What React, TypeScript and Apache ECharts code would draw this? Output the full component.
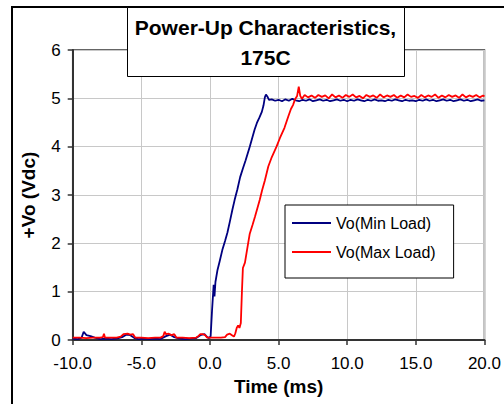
import React, { useEffect, useRef } from "react";
import * as echarts from "echarts";

const xTicks = [-10, -5, 0, 5, 10, 15, 20];
const yTicks = [0, 1, 2, 3, 4, 5, 6];
const seriesNames = ["Vo(Min Load)", "Vo(Max Load)"];

// Vo(Min Load): [time ms, volts]
const minLoad: [number, number][] = [
  [-10, 0.03], [-9.6, 0.02], [-9.35, 0.05], [-9.2, 0.17], [-9.0, 0.1], [-8.7, 0.08], [-8.4, 0.05],
  [-8.0, 0.02], [-7.6, 0.03], [-7.2, 0.02], [-6.8, 0.03], [-6.4, 0.06], [-6.1, 0.11], [-5.8, 0.1],
  [-5.5, 0.04], [-5.2, 0.02], [-4.8, 0.03], [-4.4, 0.02], [-4.0, 0.03], [-3.6, 0.02], [-3.2, 0.08],
  [-2.9, 0.11], [-2.6, 0.06], [-2.2, 0.03], [-1.8, 0.02], [-1.4, 0.03], [-1.0, 0.04], [-0.7, 0.1],
  [-0.4, 0.12], [-0.2, 0.06], [-0.05, 0.04], [0.05, 0.08], [0.15, 0.6], [0.27, 1.14], [0.33, 0.9],
  [0.4, 1.2], [0.55, 1.45], [0.7, 1.62], [0.9, 1.86], [1.1, 2.05], [1.27, 2.22], [1.45, 2.45],
  [1.63, 2.69], [1.8, 2.9], [2.0, 3.12], [2.2, 3.37], [2.4, 3.55], [2.6, 3.72], [2.9, 4.0],
  [3.1, 4.2], [3.25, 4.35], [3.42, 4.49], [3.6, 4.6], [3.78, 4.72], [3.9, 4.85], [4.0, 5.02],
  [4.08, 5.08], [4.18, 5.04], [4.3, 4.97],
  [4.5, 4.98], [4.75, 4.95], [5.0, 4.97], [5.25, 4.94], [5.5, 4.98], [5.75, 4.95], [6.0, 4.99],
  [6.25, 4.96], [6.5, 4.94], [6.75, 4.97], [7.0, 4.95], [7.25, 4.98], [7.5, 4.94], [7.75, 4.96],
  [8.0, 4.98], [8.25, 4.95], [8.5, 4.97], [8.75, 4.94], [9.0, 4.96], [9.25, 4.98], [9.5, 4.95],
  [9.75, 4.97], [10.0, 4.94], [10.25, 4.97], [10.5, 4.95], [10.75, 4.98], [11.0, 4.96], [11.25, 4.94],
  [11.5, 4.97], [11.75, 4.95], [12.0, 4.98], [12.25, 4.95], [12.5, 4.96], [12.75, 4.94], [13.0, 4.97],
  [13.25, 4.95], [13.5, 4.98], [13.75, 4.96], [14.0, 4.94], [14.25, 4.97], [14.5, 4.95], [14.75, 4.96],
  [15.0, 4.94], [15.25, 4.97], [15.5, 4.95], [15.75, 4.98], [16.0, 4.95], [16.25, 4.97], [16.5, 4.94],
  [16.75, 4.96], [17.0, 4.98], [17.25, 4.95], [17.5, 4.97], [17.75, 4.94], [18.0, 4.96], [18.25, 4.98],
  [18.5, 4.95], [18.75, 4.97], [19.0, 4.94], [19.25, 4.96], [19.5, 4.98], [19.75, 4.95], [20.0, 4.96],
];

// Vo(Max Load): [time ms, volts]
const maxLoad: [number, number][] = [
  [-10, 0.05], [-9.5, 0.05], [-9.0, 0.04], [-8.5, 0.05], [-8.0, 0.05], [-7.8, 0.06], [-7.72, 0.13],
  [-7.65, 0.05], [-7.2, 0.05], [-6.8, 0.05], [-6.5, 0.07], [-6.3, 0.12], [-6.0, 0.13], [-5.8, 0.11],
  [-5.6, 0.12], [-5.45, 0.05], [-5.0, 0.05], [-4.5, 0.04], [-4.0, 0.05], [-3.6, 0.05], [-3.4, 0.08],
  [-3.3, 0.17], [-3.2, 0.12], [-3.0, 0.13], [-2.8, 0.1], [-2.6, 0.12], [-2.45, 0.05], [-2.0, 0.05],
  [-1.5, 0.04], [-1.0, 0.05], [-0.85, 0.08], [-0.7, 0.12], [-0.5, 0.12], [-0.35, 0.1], [-0.2, 0.05],
  [0.3, 0.05], [0.8, 0.05], [1.1, 0.06], [1.25, 0.11], [1.45, 0.13], [1.6, 0.1], [1.75, 0.07],
  [1.85, 0.14], [1.95, 0.25], [2.05, 0.3], [2.15, 0.25], [2.25, 0.35], [2.33, 1.0], [2.4, 1.49],
  [2.55, 1.6], [2.7, 1.86], [2.9, 2.2], [3.1, 2.38], [3.28, 2.55], [3.45, 2.72], [3.63, 2.9],
  [3.8, 3.1], [4.0, 3.3], [4.25, 3.59], [4.5, 3.78], [4.85, 4.0], [5.1, 4.18], [5.43, 4.39],
  [5.7, 4.62], [5.9, 4.78], [6.05, 4.86], [6.2, 4.98], [6.35, 5.05], [6.47, 5.24], [6.58, 5.05],
  [6.7, 4.99],
  [6.9, 5.07], [7.15, 5.02], [7.4, 5.06], [7.65, 5.01], [7.9, 5.07], [8.15, 5.03], [8.4, 5.06],
  [8.65, 5.0], [8.9, 5.08], [9.15, 5.02], [9.4, 5.06], [9.65, 5.01], [9.9, 5.07], [10.15, 5.03],
  [10.4, 5.08], [10.65, 5.02], [10.9, 5.05], [11.15, 5.0], [11.4, 5.07], [11.65, 5.03], [11.9, 5.06],
  [12.15, 5.01], [12.4, 5.08], [12.65, 5.02], [12.9, 5.06], [13.15, 5.03], [13.4, 5.07], [13.65, 5.01],
  [13.9, 5.06], [14.15, 5.02], [14.4, 5.08], [14.65, 5.03], [14.9, 5.05], [15.15, 5.01], [15.4, 5.07],
  [15.65, 5.02], [15.9, 5.06], [16.15, 5.03], [16.4, 5.08], [16.65, 5.01], [16.9, 5.06], [17.15, 5.02],
  [17.4, 5.07], [17.65, 5.03], [17.9, 5.06], [18.15, 5.01], [18.4, 5.08], [18.65, 5.02], [18.9, 5.06],
  [19.15, 5.03], [19.4, 5.07], [19.65, 5.02], [19.9, 5.06], [20.0, 5.04],
];

const FONT = "Arial, 'Liberation Sans', sans-serif";

export default function App() {
  const ref = useRef<HTMLDivElement>(null);
  useEffect(() => {
    if (!ref.current) return;
    const chart = echarts.init(ref.current, undefined, { renderer: "svg" });
    chart.setOption({
      animation: false,
      backgroundColor: "#ffffff",
      textStyle: { fontFamily: FONT },
      title: {
        text: "Power-Up Characteristics,\n175C",
        left: 265.5,
        top: 12,
        textAlign: "center",
        padding: 0,
        z: 200,
        textStyle: { fontFamily: FONT, fontSize: 21, fontWeight: "bold", color: "#000", lineHeight: 30 },
      },
      graphic: [
        {
          type: "rect",
          z: 150,
          shape: { x: 12, y: 7, width: 520, height: 420 },
          style: { fill: "none", stroke: "#000", lineWidth: 2 },
        },
        {
          type: "rect",
          z: 150,
          shape: { x: 127.5, y: 7.5, width: 277, height: 69 },
          style: { fill: "#ffffff", stroke: "#000", lineWidth: 1 },
        },
      ],
      legend: {
        orient: "vertical",
        left: 285,
        top: 205,
        padding: [10, 18, 18, 7],
        icon: "rect",
        itemWidth: 39,
        itemHeight: 2,
        itemGap: 13,
        backgroundColor: "#ffffff",
        borderColor: "#000",
        borderWidth: 1,
        borderRadius: 0,
        data: seriesNames,
        textStyle: { fontFamily: FONT, fontSize: 16, color: "#000", lineHeight: 16 },
      },
      grid: {
        left: 72.7,
        right: 13,
        top: 50,
        bottom: 64,
        show: true,
        borderColor: "#333",
        borderWidth: 1.5,
        backgroundColor: "transparent",
      },
      xAxis: {
        type: "value",
        min: -10,
        max: 20,
        interval: 5,
        name: "Time (ms)",
        nameLocation: "middle",
        nameGap: 37,
        nameTextStyle: { fontFamily: FONT, fontSize: 19, fontWeight: "bold", color: "#000" },
        axisLine: { show: true, onZero: false, lineStyle: { color: "#333", width: 2 } },
        axisTick: { show: true, length: 5, lineStyle: { color: "#333", width: 1.5 } },
        axisLabel: {
          margin: 15,
          fontSize: 17,
          color: "#000",
          fontFamily: FONT,
          formatter: (v: number) => (xTicks.includes(v) ? v.toFixed(1) : ""),
        },
        splitLine: { show: true, lineStyle: { color: "#c8c8c8", width: 1 } },
      },
      yAxis: {
        type: "value",
        min: 0,
        max: 6,
        interval: 1,
        name: "+Vo (Vdc)",
        nameLocation: "middle",
        nameGap: 35,
        nameRotate: 90,
        nameTextStyle: { fontFamily: FONT, fontSize: 19, fontWeight: "bold", color: "#000" },
        axisLine: { show: true, onZero: false, lineStyle: { color: "#333", width: 2 } },
        axisTick: { show: true, length: 5, lineStyle: { color: "#333", width: 1.5 } },
        axisLabel: {
          margin: 12,
          fontSize: 17,
          color: "#000",
          fontFamily: FONT,
          formatter: (v: number) => (yTicks.includes(v) ? String(v) : ""),
        },
        splitLine: { show: true, lineStyle: { color: "#c8c8c8", width: 1 } },
      },
      series: [
        {
          name: seriesNames[0],
          type: "line",
          data: minLoad,
          symbol: "none",
          lineStyle: { color: "#000080", width: 1.8 },
          itemStyle: { color: "#000080" },
          z: 3,
        },
        {
          name: seriesNames[1],
          type: "line",
          data: maxLoad,
          symbol: "none",
          lineStyle: { color: "#ff0000", width: 1.8 },
          itemStyle: { color: "#ff0000" },
          z: 4,
        },
      ],
    });
    return () => chart.dispose();
  }, []);
  return (
    <div
      ref={ref}
      style={{ position: "fixed", left: 0, top: 0, width: 504, height: 404, background: "#fff" }}
    />
  );
}
